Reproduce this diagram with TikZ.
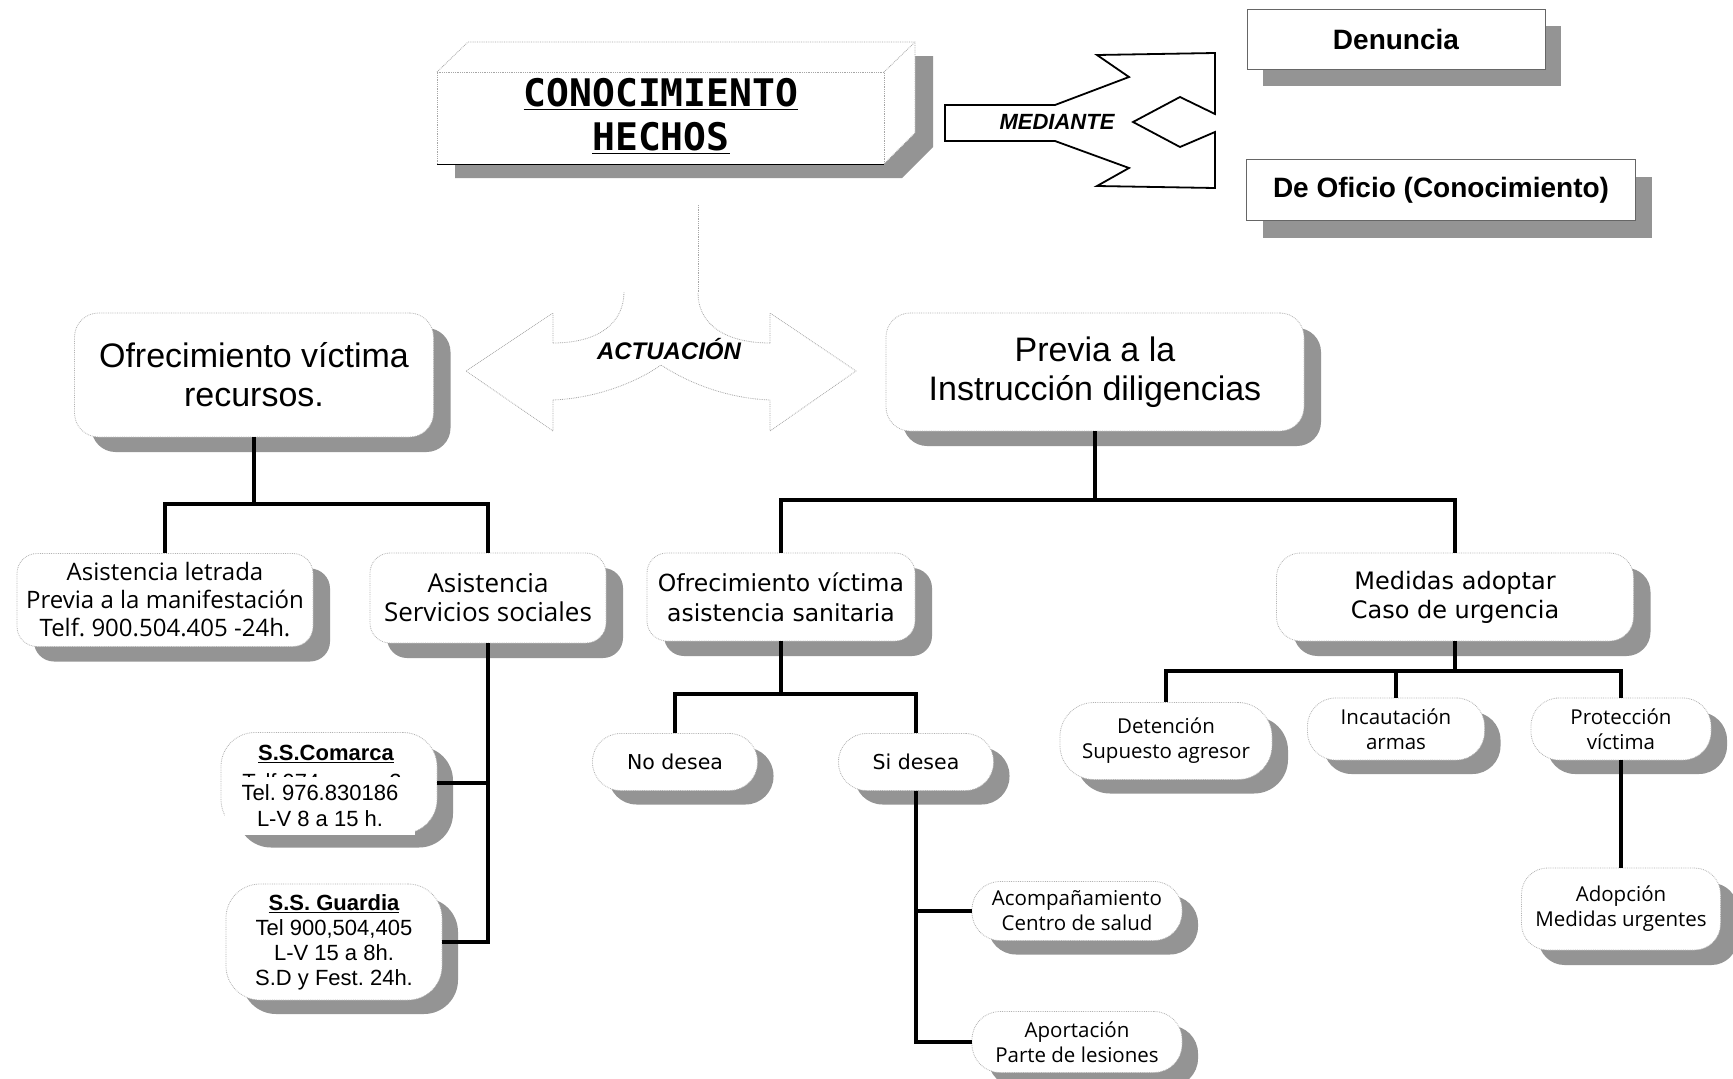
\documentclass[tikz,border=0pt]{standalone}
\usepackage{fontspec}
\setmainfont{Liberation Sans}
\newfontfamily\boxfont{Open Sans}
\newfontfamily\widefont{DejaVu Sans}
\newfontfamily\titlefont{DejaVu Sans Mono}
\usetikzlibrary{shadows, calc}
\frenchspacing

\tikzset{
    plate/.style={draw=gray!60, densely dotted, line width=0.8pt, fill=white, align=center, inner sep=0pt},
    card/.style={plate, rounded corners=24pt,
        drop shadow={shadow xshift=17pt, shadow yshift=-15pt, fill=black!42, opacity=1}},
    bubble/.style={plate, rounded corners=28pt,
        drop shadow={shadow xshift=16pt, shadow yshift=-14pt, fill=black!42, opacity=1}},
    tag/.style={plate, draw=black!60, solid, line width=0.6pt,
        drop shadow={shadow xshift=16pt, shadow yshift=-17pt, fill=black!42, opacity=1}},
    link/.style={line width=4.5pt},
    faint/.style={draw=gray!70, densely dotted, line width=0.8pt},
}

\begin{document}
\begin{tikzpicture}[x=1pt, y=-1pt]
    \useasboundingbox (0,0) rectangle (1733,1079);
    \fill[white] (0,0) rectangle (1733,1079);

    % Title block with depth
    \fill[black!42] (455,86) -- (486,56) -- (933,56) -- (933,147) -- (902,178) -- (455,178) -- cycle;
    \fill[white] (437,72) -- (468,42) -- (915,42) -- (915,133) -- (884,164) -- (437,164) -- cycle;
    \draw[faint] (437,164) -- (437,72) -- (884,72) -- (884,164);
    \draw[faint] (437,72) -- (468,42) -- (915,42) -- (915,133) -- (884,164);
    \draw[faint] (884,72) -- (915,42);
    \draw[line width=0.8pt] (437,164) -- (884,164);
    \node[font=\titlefont\bfseries\fontsize{38}{44}\selectfont, align=center] (title) at (661,116)
        {\underline{CONOCIMIENTO}\\\underline{HECHOS}};
    \coordinate (titlefoot) at (698,205);

    % Forked arrow
    \draw[line width=1.8pt, fill=white] (945,105) -- (1055,105) -- (1129,77) -- (1097,55) -- (1215,53)
        -- (1215,114) -- (1180,97) -- (1133,122) -- (1180,147) -- (1215,132) -- (1215,188)
        -- (1097,186) -- (1129,168) -- (1055,141) -- (945,141) -- cycle;
    \node[font=\bfseries\itshape\fontsize{22}{26}\selectfont] (mediante) at (1057,122) {MEDIANTE};

    \node[tag, minimum width=298, minimum height=60, font=\bfseries\fontsize{28}{32}\selectfont] (den) at (1396,39) {Denuncia};
    \node[tag, minimum width=389, minimum height=61, font=\bfseries\fontsize{28}{32}\selectfont] (ofi) at (1441,190) {De Oficio (Conocimiento)};

    % Double arrow
    \draw[faint] (titlefoot) -- (698,293);
    \draw[faint] (553,343) .. controls (600,343) and (624,322) .. (624,292);
    \draw[faint] (770,343) .. controls (722,343) and (698,322) .. (698,293);
    \draw[faint] (553,400) .. controls (600,398) and (640,380) .. (661,365)
        .. controls (684,380) and (722,398) .. (770,400);
    \draw[faint] (553,343) -- (553,313) -- (466,371) -- (553,431) -- (553,400);
    \draw[faint] (770,343) -- (770,313) -- (856,371) -- (770,431) -- (770,400);
    \node[font=\bfseries\itshape\fontsize{24}{28}\selectfont] (actuacion) at (669,349) {ACTUACIÓN};

    % Main branches
    \node[card, minimum width=359, minimum height=124, font=\fontsize{34}{39}\selectfont] (rec) at (254,375)
        {Ofrecimiento víctima\\recursos.};
    \node[card, minimum width=418, minimum height=118, font=\fontsize{34}{39}\selectfont] (prev) at (1095,372)
        {Previa a la\\Instrucción diligencias};

    % Left side
    \node[card, rounded corners=20pt, minimum width=296, minimum height=93, font=\boxfont\fontsize{24}{28}\selectfont] (asl) at (165,600)
        {Asistencia letrada\\Previa a la manifestación\\Telf. 900.504.405 -24h.};
    \node[card, rounded corners=20pt, minimum width=236, minimum height=90, font=\boxfont\fontsize{26}{29}\selectfont] (ass) at (488,598)
        {Asistencia\\Servicios sociales};

    \node[bubble, rounded corners=34pt, minimum width=216, minimum height=101] (ssc) at (329,783) {};
    \node[font=\bfseries\fontsize{22}{25}\selectfont] (sscname) at (326,754) {\underline{S.S.Comarca}};
    \begin{scope}
        \clip (200,760) rectangle (450,777);
        \node[font=\fontsize{22}{25}\selectfont] (sscold) at (322,782) {Telf 974\hspace{70pt}2};
    \end{scope}
    \node[fill=white, inner sep=0pt, minimum width=190, minimum height=58, align=center,
        font=\fontsize{22}{26}\selectfont] (ssctel) at (320,806) {Tel. 976.830186\\L-V 8 a 15 h.};

    \node[bubble, rounded corners=34pt, minimum width=216, minimum height=116, font=\fontsize{22}{25}\selectfont] (ssg) at (334,942)
        {\textbf{\underline{S.S. Guardia}}\\Tel 900,504,405\\L-V 15 a 8h.\\S.D y Fest. 24h.};

    % Centre
    \node[card, rounded corners=20pt, minimum width=268, minimum height=88, font=\widefont\fontsize{23.5}{30}\selectfont] (ofs) at (781,597)
        {Ofrecimiento víctima\\asistencia sanitaria};
    \node[bubble, minimum width=165, minimum height=57, font=\widefont\fontsize{20.5}{24}\selectfont] (nod) at (675,762) {No desea};
    \node[bubble, minimum width=155, minimum height=57, font=\widefont\fontsize{20.5}{24}\selectfont] (sid) at (916,762) {Si desea};
    \node[bubble, minimum width=210, minimum height=59, font=\boxfont\fontsize{20.5}{25}\selectfont] (aco) at (1077,911)
        {Acompañamiento\\Centro de salud};
    \node[bubble, minimum width=210, minimum height=61, font=\boxfont\fontsize{20.5}{25}\selectfont] (apo) at (1077,1042)
        {Aportación\\Parte de lesiones};

    % Right side
    \node[card, minimum width=357, minimum height=88, font=\widefont\fontsize{24}{29}\selectfont] (med) at (1455,597)
        {Medidas adoptar\\Caso de urgencia};
    \node[bubble, rounded corners=34pt, minimum width=212, minimum height=77, font=\boxfont\fontsize{20.5}{25}\selectfont] (det) at (1166,741)
        {Detención\\Supuesto agresor};
    \node[bubble, minimum width=177, minimum height=62, font=\boxfont\fontsize{20.5}{25}\selectfont] (inc) at (1396,729)
        {Incautación\\armas};
    \node[bubble, minimum width=180, minimum height=62, font=\boxfont\fontsize{20.5}{25}\selectfont] (pro) at (1621,729)
        {Protección\\víctima};
    \node[card, rounded corners=26pt, minimum width=199, minimum height=82, font=\boxfont\fontsize{20.5}{25}\selectfont] (ado) at (1621,909)
        {Adopción\\Medidas urgentes};

    % Connectors
    \coordinate (recbus) at (254,504);
    \draw[link] (rec.south) -- (recbus);
    \draw[link] (asl.north) |- (recbus) -| (ass.north);
    \draw[link] (ass.south) |- (ssg.east);
    \draw[link] (ssc.east) -- (ssc.east -| ass.south);

    \coordinate (prevbus) at (1095,500);
    \draw[link] (prev.south) -- (prevbus);
    \draw[link] (ofs.north) |- (prevbus) -| (med.north);

    \coordinate (ofsbus) at (781,694);
    \draw[link] (ofs.south) -- (ofsbus);
    \draw[link] (nod.north) |- (ofsbus) -| (sid.north);
    \draw[link] (sid.south) |- (apo.west);
    \draw[link] (aco.west) -- (aco.west -| sid.south);

    \coordinate (medbus) at (1455,671);
    \draw[link] (med.south) -- (medbus);
    \draw[link] (det.north) |- (medbus) -| (pro.north);
    \draw[link] (inc.north) -- (inc.north |- medbus);
    \draw[link] (pro.south) -- (ado.north);
\end{tikzpicture}
\end{document}
